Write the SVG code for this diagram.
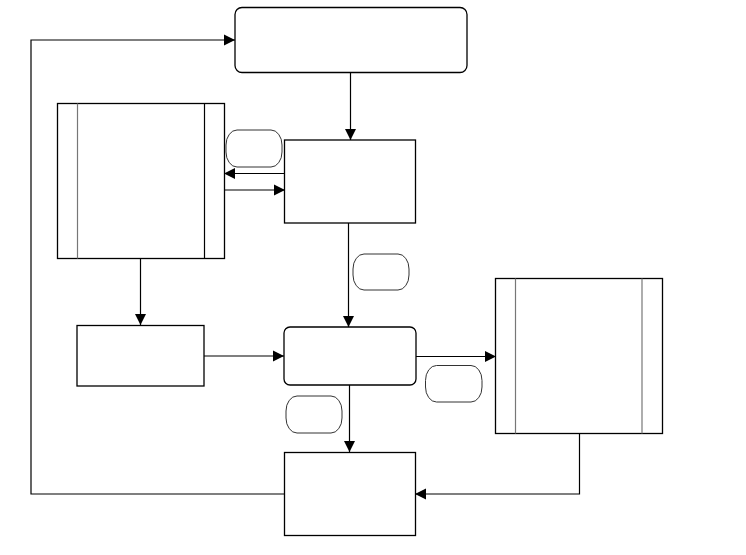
<svg xmlns="http://www.w3.org/2000/svg" width="746" height="555" viewBox="0 0 746 555">
<style>
.box{fill:#fff;stroke:#000;stroke-width:1.3}
.cap{fill:#fff;stroke:#333;stroke-width:1}
.inner{stroke:#777;stroke-width:1.2}
.inner2{stroke:#000;stroke-width:1.2}
.edge{fill:none;stroke:#000;stroke-width:1.2}
</style>
<defs>
<marker id="arr" markerUnits="userSpaceOnUse" markerWidth="12" markerHeight="12" refX="11" refY="6" orient="auto">
<path d="M0,0.5 L11,6 L0,11.5 z" fill="#000"/>
</marker>
</defs>
<rect width="746" height="555" fill="#fff"/>
<g id="edges">
<path class="edge" d="M286,494 L31,494 L31,40 L235,40" marker-end="url(#arr)"/>
<path class="edge" d="M350.5,73 L350.5,140" marker-end="url(#arr)"/>
<path class="edge" d="M285,173.5 L224,173.5" marker-end="url(#arr)"/>
<path class="edge" d="M224,190 L285,190" marker-end="url(#arr)"/>
<path class="edge" d="M348.5,223 L348.5,327" marker-end="url(#arr)"/>
<path class="edge" d="M140.5,258 L140.5,325" marker-end="url(#arr)"/>
<path class="edge" d="M204,356 L284,356" marker-end="url(#arr)"/>
<path class="edge" d="M416,356.5 L496,356.5" marker-end="url(#arr)"/>
<path class="edge" d="M349.5,385 L349.5,452" marker-end="url(#arr)"/>
<path class="edge" d="M579.5,433 L579.5,494 L415,494" marker-end="url(#arr)"/>
</g>
<g id="n-top"><rect class="box" x="235" y="7.5" width="232" height="65" rx="7"/></g>
<g id="n-left-store">
<rect class="box" x="57.5" y="103.5" width="167" height="155"/>
<line class="inner" x1="77.5" y1="103.5" x2="77.5" y2="258.5"/>
<line class="inner2" x1="204.5" y1="103.5" x2="204.5" y2="258.5"/>
</g>
<g id="n-box2"><rect class="box" x="284.5" y="140" width="131" height="83"/></g>
<g id="cap1"><rect class="cap" x="226" y="130" width="56" height="37" rx="11" ry="15"/></g>
<g id="cap2"><rect class="cap" x="353" y="254" width="56" height="36" rx="11" ry="15"/></g>
<g id="n-small"><rect class="box" x="77" y="325.5" width="127" height="60.5"/></g>
<g id="n-box3"><rect class="box" x="284" y="327" width="132" height="58" rx="6"/></g>
<g id="cap3"><rect class="cap" x="425.5" y="365.5" width="56.5" height="36.5" rx="11" ry="15"/></g>
<g id="cap4"><rect class="cap" x="286" y="396" width="56" height="37" rx="11" ry="15"/></g>
<g id="n-right-store">
<rect class="box" x="495.5" y="278.5" width="167" height="155"/>
<line class="inner" x1="515.5" y1="278.5" x2="515.5" y2="433.5"/>
<line class="inner" x1="642" y1="278.5" x2="642" y2="433.5"/>
</g>
<g id="n-box4"><rect class="box" x="284.5" y="452.5" width="131" height="83"/></g>
</svg>
